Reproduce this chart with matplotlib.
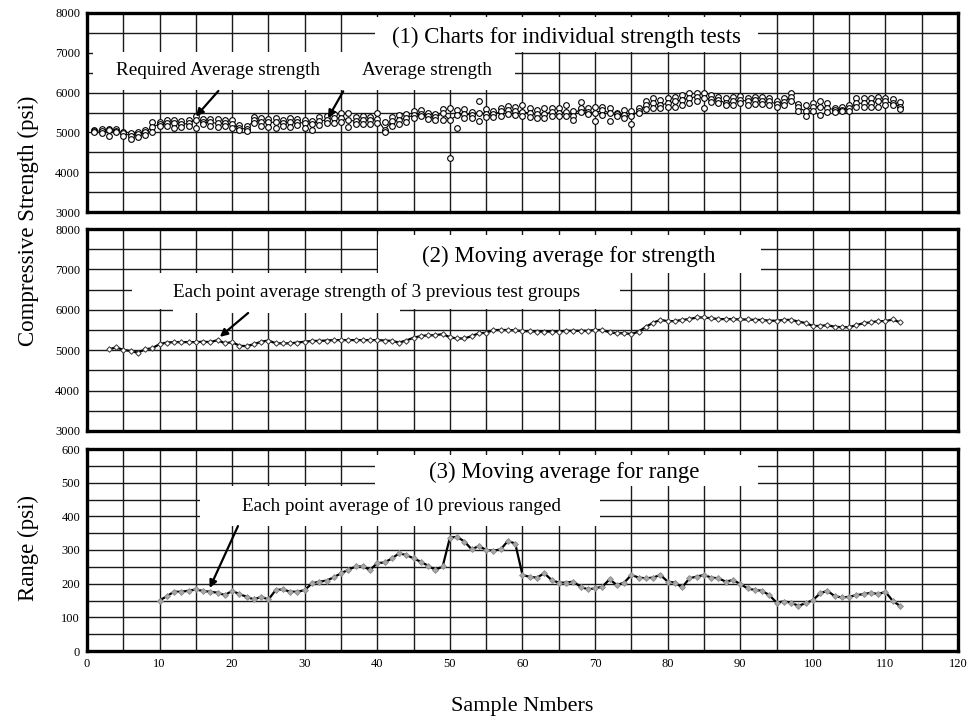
import matplotlib.pyplot as plt
import numpy as np
from matplotlib.patches import Rectangle

plt.rcParams['font.family'] = ['Liberation Serif', 'DejaVu Serif']

# (1) individual strength tests, three results per sample number (psi)
sample_x = np.arange(1, 113)
strength_hi = [5060, 5080, 5090, 5080, 5020, 4990, 5010, 5050, 5260, 5270,
               5300, 5320, 5280, 5300, 5400, 5330, 5340, 5340, 5320, 5300,
               5180, 5160, 5390, 5350, 5330, 5360, 5310, 5350, 5330, 5300,
               5290, 5380, 5400, 5450, 5490, 5500, 5380, 5400, 5380, 5480,
               5250, 5380, 5430, 5450, 5530, 5560, 5500, 5460, 5600, 5620,
               5560, 5580, 5520, 5780, 5580, 5550, 5620, 5660, 5640, 5700,
               5610, 5570, 5610, 5610, 5610, 5680, 5530, 5760, 5610, 5630,
               5650, 5610, 5500, 5570, 5530, 5610, 5780, 5860, 5820, 5860,
               5880, 5940, 5980, 6000, 5980, 5940, 5900, 5860, 5880, 5920,
               5860, 5900, 5880, 5860, 5780, 5860, 6000, 5710, 5690, 5730,
               5780, 5730, 5610, 5630, 5690, 5860, 5860, 5860, 5900, 5860,
               5840, 5760]
strength_mid = [5030, 5040, 5050, 5030, 4980, 4920, 4950, 5000, 5140, 5210,
                5230, 5240, 5200, 5230, 5320, 5260, 5250, 5230, 5230, 5200,
                5100, 5090, 5320, 5270, 5250, 5260, 5230, 5270, 5260, 5230,
                5200, 5280, 5320, 5350, 5370, 5300, 5290, 5310, 5300, 5340,
                5060, 5280, 5320, 5360, 5440, 5470, 5410, 5380, 5480, 5300,
                5440, 5470, 5430, 5500, 5470, 5450, 5530, 5560, 5530, 5520,
                5480, 5460, 5460, 5510, 5480, 5520, 5420, 5610, 5510, 5480,
                5570, 5480, 5460, 5440, 5400, 5540, 5680, 5730, 5690, 5730,
                5780, 5820, 5860, 5900, 5860, 5840, 5820, 5730, 5780, 5820,
                5780, 5820, 5790, 5780, 5710, 5760, 5880, 5630, 5530, 5650,
                5650, 5610, 5570, 5570, 5610, 5730, 5730, 5730, 5790, 5780,
                5730, 5650]
strength_lo = [5010, 4990, 4920, 5000, 4900, 4840, 4880, 4930, 5020, 5150,
               5150, 5120, 5140, 5160, 5120, 5200, 5170, 5130, 5150, 5100,
               5060, 5040, 5230, 5170, 5130, 5110, 5160, 5140, 5190, 5120,
               5050, 5180, 5230, 5240, 5250, 5140, 5200, 5220, 5210, 5230,
               5020, 5160, 5200, 5260, 5350, 5400, 5330, 5300, 5320, 4360,
               5110, 5360, 5360, 5280, 5380, 5380, 5420, 5450, 5430, 5420,
               5380, 5350, 5360, 5400, 5400, 5420, 5320, 5520, 5450, 5280,
               5440, 5280, 5400, 5360, 5210, 5480, 5600, 5610, 5610, 5650,
               5650, 5690, 5730, 5780, 5610, 5760, 5730, 5680, 5700, 5730,
               5700, 5710, 5710, 5680, 5650, 5690, 5790, 5550, 5400, 5530,
               5440, 5510, 5520, 5530, 5530, 5650, 5650, 5650, 5650, 5700,
               5680, 5600]

# (2) moving average of strength, samples 3..112
movavg_x = np.arange(3, 113)
movavg_strength = [5020, 5070, 5010, 4980, 4940, 5020, 5050, 5150, 5190, 5200,
                   5200, 5200, 5200, 5210, 5200, 5250, 5170, 5200, 5110, 5100,
                   5150, 5210, 5240, 5170, 5170, 5170, 5190, 5210, 5230, 5230,
                   5240, 5250, 5250, 5250, 5250, 5250, 5250, 5250, 5240, 5230,
                   5190, 5240, 5310, 5350, 5370, 5370, 5400, 5320, 5290, 5290,
                   5350, 5420, 5430, 5500, 5500, 5500, 5490, 5470, 5470, 5460,
                   5460, 5460, 5460, 5480, 5480, 5480, 5480, 5500, 5500, 5440,
                   5420, 5420, 5400, 5460, 5580, 5680, 5750, 5720, 5720, 5750,
                   5770, 5810, 5810, 5790, 5770, 5770, 5770, 5760, 5760, 5750,
                   5750, 5730, 5730, 5750, 5750, 5710, 5670, 5600, 5600, 5620,
                   5580, 5570, 5570, 5620, 5670, 5690, 5720, 5720, 5760, 5690]

# (3) moving average of range, samples 10..112
range_x = np.arange(10, 113)
movavg_range = [150, 163, 176, 176, 179, 183, 178, 176, 173, 166,
                179, 169, 161, 153, 161, 153, 181, 183, 176, 176,
                181, 201, 206, 209, 219, 231, 241, 251, 251, 241,
                261, 263, 275, 290, 285, 275, 265, 253, 241, 251,
                337, 339, 325, 302, 312, 300, 298, 302, 327, 319,
                226, 220, 218, 231, 211, 203, 203, 206, 191, 183,
                186, 191, 213, 196, 203, 226, 218, 216, 218, 226,
                206, 203, 189, 216, 221, 226, 218, 216, 206, 211,
                199, 186, 181, 179, 166, 144, 147, 144, 134, 142,
                151, 171, 179, 163, 159, 161, 166, 169, 173, 169,
                176, 149, 134]

W, H = 970, 721
fig = plt.figure(figsize=(W / 100, H / 100), dpi=100)
ax1 = fig.add_axes([87 / W, 1 - 212.3 / H, 871 / W, 199.6 / H])
ax2 = fig.add_axes([87 / W, 1 - 431 / H, 871 / W, 202 / H])
ax3 = fig.add_axes([87 / W, 1 - 651 / H, 871 / W, 202 / H])


def style(ax, ymin, ymax, major, minor):
    ax.set_xlim(0, 120)
    ax.set_ylim(ymin, ymax)
    ax.set_xticks(np.arange(0, 121, 10))
    ax.set_xticks(np.arange(0, 121, 5), minor=True)
    ax.set_yticks(np.arange(ymin, ymax + 1, major))
    ax.set_yticks(np.arange(ymin, ymax + 1, minor), minor=True)
    ax.grid(True, which='both', color='#1a1a1a', lw=1.0)
    ax.set_axisbelow(True)
    ax.tick_params(which='both', length=0, labelsize=9, pad=5)
    for s in ax.spines.values():
        s.set_linewidth(2.4)


def white_box(ax, x0, y0, x1, y1):
    ax.add_patch(Rectangle((x0, y0), x1 - x0, y1 - y0, facecolor='white',
                           edgecolor='none', zorder=1))


def arrow(ax, start, tip):
    ax.annotate('', xy=tip, xytext=start, zorder=5,
                arrowprops=dict(arrowstyle='-|>', color='black', lw=1.6,
                                mutation_scale=11, shrinkA=0, shrinkB=0))


style(ax1, 3000, 8000, 1000, 500)
style(ax2, 3000, 8000, 1000, 500)
style(ax3, 0, 600, 100, 50)
ax1.tick_params(labelbottom=False)
ax2.tick_params(labelbottom=False)

# panel 1
white_box(ax1, 39.7, 7015, 92.4, 7890)
white_box(ax1, 0.8, 6060, 59.0, 7015)
for ys in (strength_hi, strength_mid, strength_lo):
    ax1.plot(sample_x, ys, 'o', ms=4.1, mfc='white', mec='black', mew=0.8, zorder=3)
ax1.plot(sample_x, strength_mid, '-', color='black', lw=0.8, zorder=2)
ax1.text(66.0, 7370, '(1) Charts for individual strength tests', fontsize=16.5,
         ha='center', va='center', zorder=4)
ax1.text(18.0, 6540, 'Required Average strength', fontsize=13.8, ha='center', va='center', zorder=4)
ax1.text(46.8, 6540, 'Average strength', fontsize=13.8, ha='center', va='center', zorder=4)
arrow(ax1, (18.1, 6040), (15.0, 5400))
arrow(ax1, (35.3, 6030), (33.2, 5360))

# panel 2
white_box(ax2, 40.1, 6911, 92.8, 7850)
white_box(ax2, 6.2, 6020, 73.4, 6911)
white_box(ax2, 11.8, 5921, 43.1, 6020)
ax2.plot(movavg_x, movavg_strength, '-', color='black', lw=1.6, zorder=2)
ax2.plot(movavg_x, movavg_strength, 'D', ms=2.8, mfc='white', mec='#333333', mew=0.7, zorder=3)
ax2.text(66.4, 7320, '(2) Moving average for strength', fontsize=16.5,
         ha='center', va='center', zorder=4)
ax2.text(39.9, 6450, 'Each point average strength of 3 previous test groups',
         fontsize=13.8, ha='center', va='center', zorder=4)
arrow(ax2, (22.2, 5921), (18.3, 5330))

# panel 3
white_box(ax3, 39.7, 490, 92.4, 582)
white_box(ax3, 15.6, 371, 70.7, 490)
ax3.plot(range_x, movavg_range, '-', color='black', lw=1.6, zorder=2)
ax3.plot(range_x, movavg_range, 'D', ms=3.0, mfc='#a8a8a8', mec='#8a8a8a', mew=0.6, zorder=3)
ax3.text(65.8, 530, '(3) Moving average for range', fontsize=16.5,
         ha='center', va='center', zorder=4)
ax3.text(43.3, 430, 'Each point average of 10 previous ranged', fontsize=13.8,
         ha='center', va='center', zorder=4)
arrow(ax3, (20.8, 371), (16.9, 187))

fig.text(28 / W, 1 - 221 / H, 'Compressive Strength (psi)', rotation=90,
         fontsize=16.5, ha='center', va='center')
fig.text(28 / W, 1 - 548 / H, 'Range (psi)', rotation=90,
         fontsize=16.5, ha='center', va='center')
fig.text(522 / W, 1 - 707 / H, 'Sample Nmbers', fontsize=16, ha='center', va='center')

fig.savefig('out.png', dpi=100, facecolor='white')
